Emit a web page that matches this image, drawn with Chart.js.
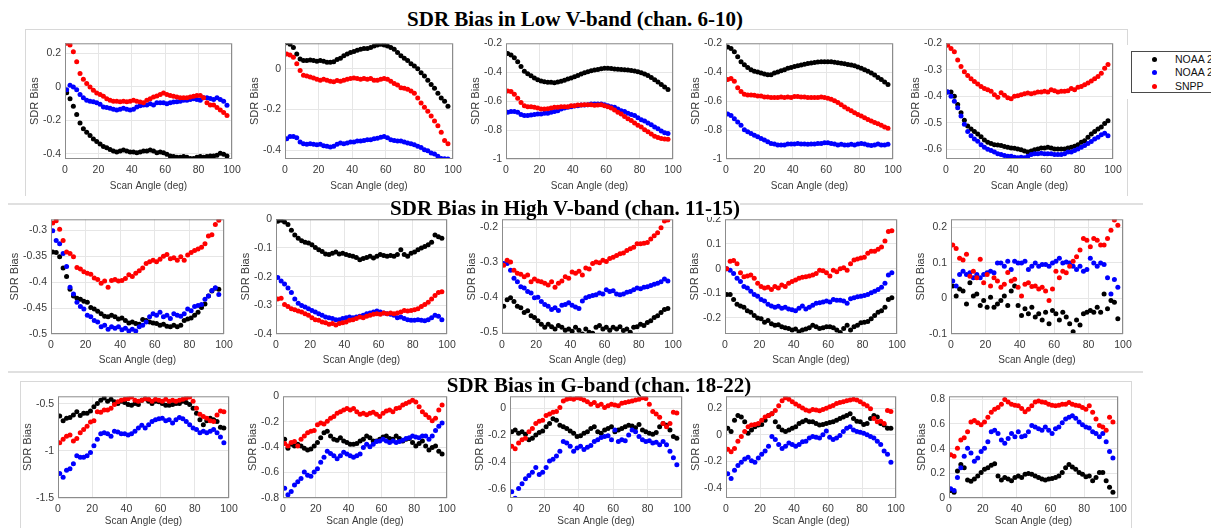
<!DOCTYPE html>
<html>
<head>
<meta charset="utf-8">
<script src="https://cdn.jsdelivr.net/npm/chart.js@4.4.0/dist/chart.umd.min.js"></script>
<style>
html, body { margin:0; padding:0; background:#fff; }
body { width:1211px; height:528px; position:relative; overflow:hidden; font-family:"Liberation Sans", Arial, sans-serif; }
.panel { position:absolute; }
.title { position:absolute; font-family:"Liberation Serif","Times New Roman",serif; font-weight:bold; font-size:21px; line-height:24px; white-space:nowrap; transform:translateX(-50%); color:#000; }
.sep { position:absolute; left:8px; width:1135px; height:0; border-top:2px solid #e0e0e0; }
.frame { position:absolute; border:1px solid #d8d8d8; border-bottom:none; }
.legend-mask { position:absolute; left:1120px; top:45px; width:91px; height:54px; background:#fff; }
.legend { position:absolute; left:1131px; top:51px; width:100px; height:40px; border:1px solid #4a4a4a; background:#fff; font-size:10.5px; color:#111; }
.legend div { position:absolute; left:43px; line-height:12px; white-space:nowrap; }
.legend i { position:absolute; left:-23.5px; top:3.5px; width:5px; height:5px; border-radius:50%; }
</style>
</head>
<body>
<div class="frame" style="left:25px; top:29px; width:1101px; height:166px;"></div>
<div class="frame" style="left:20px; top:381px; width:1110px; height:160px;"></div>
<div class="sep" style="top:203px;"></div>
<div class="sep" style="top:371px;"></div>

<script>
// scan angle (deg), one value every 2 degrees
const angles = [1,3,5,7,9,11,13,15,17,19,21,23,25,27,29,31,33,35,37,39,41,43,45,47,49,51,53,55,57,59,61,63,65,67,69,71,73,75,77,79,81,83,85,87,89,91,93,95,97];
const xTicks = [0,20,40,60,80,100];

// ---- Low V-band, chan. 6-10 ----
const ch6_n20 = [-0.035,-0.07,-0.115,-0.165,-0.215,-0.25,-0.27,-0.29,-0.31,-0.325,
-0.34,-0.355,-0.363,-0.373,-0.383,-0.388,-0.383,-0.377,-0.383,-0.388,
-0.388,-0.392,-0.388,-0.383,-0.383,-0.377,-0.383,-0.392,-0.388,-0.392,
-0.402,-0.412,-0.415,-0.42,-0.42,-0.415,-0.42,-0.427,-0.427,-0.42,
-0.415,-0.42,-0.415,-0.412,-0.412,-0.408,-0.396,-0.402,-0.412];
const ch6_n21 = [-0.017,0.01,0,-0.017,-0.046,-0.065,-0.08,-0.085,-0.088,-0.094,
-0.104,-0.12,-0.123,-0.127,-0.133,-0.138,-0.133,-0.127,-0.133,-0.138,
-0.133,-0.12,-0.113,-0.108,-0.108,-0.1,-0.108,-0.094,-0.094,-0.094,
-0.1,-0.094,-0.09,-0.088,-0.085,-0.08,-0.08,-0.075,-0.071,-0.075,
-0.08,-0.065,-0.065,-0.069,-0.075,-0.065,-0.075,-0.085,-0.11];
const ch6_snpp = [0.26,0.25,0.21,0.15,0.08,0.046,0.02,0,-0.02,-0.036,
-0.046,-0.056,-0.07,-0.08,-0.085,-0.085,-0.088,-0.085,-0.088,-0.085,
-0.08,-0.085,-0.09,-0.095,-0.08,-0.07,-0.06,-0.055,-0.045,-0.036,
-0.046,-0.052,-0.056,-0.06,-0.065,-0.065,-0.065,-0.06,-0.056,-0.052,
-0.052,-0.065,-0.095,-0.108,-0.108,-0.123,-0.138,-0.152,-0.17];

const ch7_n20 = [0.128,0.12,0.104,0.072,0.048,0.04,0.04,0.043,0.04,0.037,
0.04,0.037,0.032,0.032,0.035,0.045,0.051,0.064,0.072,0.08,
0.085,0.091,0.096,0.1,0.099,0.104,0.112,0.117,0.12,0.117,
0.112,0.104,0.096,0.08,0.064,0.051,0.04,0.024,0.013,0,
-0.02,-0.035,-0.056,-0.077,-0.096,-0.12,-0.144,-0.16,-0.184];
const ch7_n21 = [-0.344,-0.333,-0.333,-0.339,-0.36,-0.368,-0.371,-0.368,-0.371,-0.373,
-0.371,-0.378,-0.381,-0.384,-0.381,-0.371,-0.365,-0.368,-0.365,-0.36,
-0.36,-0.355,-0.355,-0.352,-0.349,-0.349,-0.344,-0.341,-0.336,-0.333,
-0.339,-0.349,-0.352,-0.355,-0.355,-0.36,-0.365,-0.368,-0.373,-0.381,
-0.387,-0.397,-0.403,-0.413,-0.419,-0.429,-0.44,-0.442,-0.443];
const ch7_snpp = [0.072,0.067,0.056,0.024,-0.008,-0.032,-0.035,-0.04,-0.045,-0.051,
-0.056,-0.051,-0.056,-0.061,-0.064,-0.058,-0.061,-0.056,-0.051,-0.048,
-0.045,-0.048,-0.051,-0.048,-0.051,-0.048,-0.056,-0.056,-0.051,-0.048,
-0.051,-0.061,-0.072,-0.08,-0.093,-0.096,-0.1,-0.109,-0.12,-0.144,
-0.168,-0.189,-0.208,-0.232,-0.256,-0.28,-0.312,-0.352,-0.368];

const ch8_n20 = [-0.27,-0.281,-0.3,-0.327,-0.36,-0.394,-0.41,-0.425,-0.44,-0.452,
-0.46,-0.465,-0.469,-0.47,-0.472,-0.467,-0.462,-0.456,-0.447,-0.44,
-0.432,-0.423,-0.413,-0.403,-0.396,-0.39,-0.385,-0.381,-0.376,-0.373,
-0.372,-0.374,-0.377,-0.379,-0.381,-0.383,-0.385,-0.388,-0.392,-0.397,
-0.403,-0.412,-0.423,-0.437,-0.452,-0.468,-0.485,-0.503,-0.519];
const ch8_n21 = [-0.677,-0.672,-0.672,-0.677,-0.693,-0.7,-0.7,-0.695,-0.693,-0.688,
-0.688,-0.684,-0.684,-0.677,-0.672,-0.666,-0.654,-0.647,-0.643,-0.638,
-0.634,-0.632,-0.627,-0.627,-0.625,-0.62,-0.62,-0.62,-0.62,-0.625,
-0.632,-0.638,-0.643,-0.654,-0.666,-0.672,-0.684,-0.693,-0.7,-0.715,
-0.729,-0.738,-0.751,-0.763,-0.779,-0.79,-0.806,-0.819,-0.824];
const ch8_snpp = [-0.53,-0.534,-0.553,-0.58,-0.609,-0.632,-0.638,-0.638,-0.643,-0.647,
-0.654,-0.654,-0.652,-0.647,-0.643,-0.643,-0.638,-0.638,-0.638,-0.632,
-0.632,-0.627,-0.627,-0.625,-0.625,-0.625,-0.629,-0.627,-0.625,-0.632,
-0.638,-0.647,-0.661,-0.677,-0.688,-0.706,-0.722,-0.733,-0.751,-0.767,
-0.779,-0.797,-0.812,-0.828,-0.842,-0.851,-0.858,-0.862,-0.864];

const ch9_n20 = [-0.225,-0.236,-0.259,-0.293,-0.327,-0.349,-0.367,-0.383,-0.394,-0.399,
-0.406,-0.412,-0.417,-0.417,-0.406,-0.399,-0.39,-0.383,-0.372,-0.367,
-0.36,-0.355,-0.35,-0.345,-0.34,-0.336,-0.333,-0.33,-0.328,-0.327,
-0.327,-0.328,-0.331,-0.334,-0.338,-0.342,-0.346,-0.35,-0.356,-0.364,
-0.372,-0.383,-0.394,-0.406,-0.42,-0.436,-0.451,-0.468,-0.485];
const ch9_n21 = [-0.688,-0.7,-0.722,-0.745,-0.767,-0.797,-0.812,-0.824,-0.835,-0.846,
-0.858,-0.869,-0.88,-0.892,-0.896,-0.903,-0.903,-0.903,-0.896,-0.896,
-0.896,-0.892,-0.896,-0.896,-0.898,-0.896,-0.896,-0.892,-0.892,-0.887,
-0.887,-0.892,-0.896,-0.903,-0.898,-0.903,-0.903,-0.898,-0.903,-0.896,
-0.892,-0.896,-0.903,-0.907,-0.903,-0.896,-0.903,-0.903,-0.898];
const ch9_snpp = [-0.451,-0.444,-0.462,-0.507,-0.534,-0.553,-0.557,-0.557,-0.56,-0.564,
-0.564,-0.571,-0.571,-0.575,-0.575,-0.575,-0.571,-0.575,-0.571,-0.575,
-0.568,-0.568,-0.571,-0.571,-0.575,-0.575,-0.575,-0.575,-0.571,-0.575,
-0.58,-0.586,-0.598,-0.61,-0.625,-0.64,-0.655,-0.666,-0.68,-0.693,
-0.703,-0.715,-0.727,-0.737,-0.747,-0.757,-0.767,-0.778,-0.788];

const ch10_n20 = [-0.384,-0.384,-0.4,-0.431,-0.462,-0.491,-0.512,-0.524,-0.533,-0.543,
-0.553,-0.565,-0.574,-0.578,-0.583,-0.584,-0.586,-0.59,-0.593,-0.595,
-0.596,-0.599,-0.602,-0.607,-0.611,-0.607,-0.602,-0.599,-0.595,-0.595,
-0.593,-0.595,-0.599,-0.599,-0.599,-0.599,-0.595,-0.593,-0.589,-0.583,
-0.574,-0.568,-0.555,-0.543,-0.533,-0.524,-0.516,-0.503,-0.493];
const ch10_n21 = [-0.384,-0.4,-0.419,-0.443,-0.475,-0.506,-0.533,-0.549,-0.561,-0.57,
-0.583,-0.593,-0.6,-0.605,-0.611,-0.617,-0.62,-0.624,-0.627,-0.627,
-0.63,-0.632,-0.63,-0.632,-0.627,-0.62,-0.617,-0.617,-0.615,-0.617,
-0.617,-0.617,-0.62,-0.62,-0.62,-0.617,-0.611,-0.611,-0.605,-0.599,
-0.593,-0.586,-0.578,-0.571,-0.561,-0.555,-0.545,-0.54,-0.549];
const ch10_snpp = [-0.207,-0.22,-0.232,-0.263,-0.288,-0.307,-0.322,-0.334,-0.344,-0.354,
-0.363,-0.371,-0.375,-0.381,-0.394,-0.404,-0.387,-0.396,-0.406,-0.409,
-0.4,-0.398,-0.394,-0.391,-0.388,-0.391,-0.388,-0.384,-0.384,-0.381,
-0.384,-0.375,-0.379,-0.384,-0.381,-0.381,-0.379,-0.371,-0.375,-0.366,
-0.363,-0.357,-0.35,-0.342,-0.334,-0.325,-0.313,-0.294,-0.28];

// ---- High V-band, chan. 11-15 ----
const ch11_n20 = [-0.342,-0.343,-0.351,-0.373,-0.389,-0.414,-0.427,-0.431,-0.433,-0.437,
-0.439,-0.449,-0.452,-0.456,-0.461,-0.466,-0.467,-0.464,-0.467,-0.471,
-0.469,-0.474,-0.479,-0.477,-0.48,-0.481,-0.472,-0.474,-0.477,-0.479,
-0.48,-0.483,-0.481,-0.485,-0.486,-0.483,-0.486,-0.483,-0.474,-0.471,
-0.469,-0.464,-0.458,-0.449,-0.442,-0.427,-0.417,-0.412,-0.414];
const ch11_n21 = [-0.301,-0.32,-0.326,-0.345,-0.37,-0.41,-0.423,-0.439,-0.447,-0.452,
-0.464,-0.467,-0.474,-0.477,-0.486,-0.483,-0.491,-0.486,-0.489,-0.486,
-0.492,-0.489,-0.494,-0.491,-0.494,-0.486,-0.483,-0.477,-0.467,-0.461,
-0.464,-0.458,-0.467,-0.464,-0.47,-0.461,-0.464,-0.466,-0.461,-0.452,
-0.455,-0.447,-0.445,-0.443,-0.433,-0.427,-0.416,-0.411,-0.424];
const ch11_snpp = [-0.286,-0.282,-0.298,-0.32,-0.342,-0.345,-0.351,-0.372,-0.375,-0.38,
-0.383,-0.385,-0.392,-0.395,-0.402,-0.398,-0.41,-0.397,-0.395,-0.398,
-0.397,-0.393,-0.386,-0.389,-0.383,-0.378,-0.373,-0.364,-0.361,-0.358,
-0.361,-0.356,-0.35,-0.347,-0.355,-0.353,-0.358,-0.351,-0.358,-0.348,
-0.343,-0.339,-0.336,-0.333,-0.326,-0.311,-0.309,-0.289,-0.281];

const ch12_n20 = [-0.007,-0.003,-0.009,-0.018,-0.038,-0.055,-0.066,-0.075,-0.08,-0.083,
-0.089,-0.098,-0.106,-0.112,-0.121,-0.123,-0.118,-0.114,-0.121,-0.118,
-0.123,-0.126,-0.129,-0.133,-0.141,-0.137,-0.133,-0.129,-0.135,-0.129,
-0.123,-0.126,-0.129,-0.126,-0.129,-0.123,-0.106,-0.123,-0.129,-0.118,
-0.114,-0.106,-0.1,-0.095,-0.089,-0.08,-0.055,-0.061,-0.066];
const ch12_n21 = [-0.203,-0.215,-0.226,-0.24,-0.255,-0.278,-0.293,-0.301,-0.306,-0.312,
-0.318,-0.323,-0.329,-0.335,-0.341,-0.343,-0.346,-0.35,-0.35,-0.346,
-0.343,-0.341,-0.343,-0.341,-0.338,-0.335,-0.329,-0.327,-0.323,-0.32,
-0.323,-0.327,-0.329,-0.331,-0.335,-0.343,-0.341,-0.346,-0.35,-0.352,
-0.352,-0.35,-0.352,-0.354,-0.35,-0.343,-0.335,-0.338,-0.35];
const ch12_snpp = [-0.278,-0.275,-0.297,-0.304,-0.312,-0.315,-0.32,-0.323,-0.329,-0.335,
-0.343,-0.35,-0.352,-0.358,-0.361,-0.366,-0.363,-0.369,-0.363,-0.361,
-0.358,-0.352,-0.35,-0.346,-0.341,-0.343,-0.338,-0.335,-0.331,-0.329,
-0.331,-0.327,-0.329,-0.327,-0.329,-0.327,-0.323,-0.318,-0.32,-0.318,
-0.315,-0.312,-0.304,-0.297,-0.289,-0.278,-0.266,-0.255,-0.253];

const ch13_n20 = [-0.426,-0.407,-0.402,-0.412,-0.426,-0.43,-0.444,-0.439,-0.453,-0.458,
-0.467,-0.477,-0.486,-0.477,-0.484,-0.491,-0.481,-0.486,-0.494,-0.491,
-0.497,-0.486,-0.494,-0.505,-0.491,-0.5,-0.503,-0.486,-0.481,-0.491,
-0.486,-0.494,-0.486,-0.491,-0.484,-0.495,-0.491,-0.5,-0.486,-0.484,
-0.477,-0.481,-0.472,-0.467,-0.458,-0.453,-0.444,-0.435,-0.432];
const ch13_n21 = [-0.304,-0.304,-0.323,-0.346,-0.356,-0.37,-0.374,-0.384,-0.388,-0.402,
-0.4,-0.412,-0.421,-0.426,-0.435,-0.43,-0.438,-0.423,-0.421,-0.416,
-0.423,-0.428,-0.432,-0.411,-0.402,-0.398,-0.395,-0.393,-0.388,-0.391,
-0.379,-0.384,-0.382,-0.391,-0.393,-0.391,-0.386,-0.384,-0.379,-0.374,
-0.376,-0.372,-0.37,-0.367,-0.363,-0.36,-0.356,-0.348,-0.354];
const ch13_snpp = [-0.309,-0.295,-0.3,-0.323,-0.332,-0.335,-0.342,-0.337,-0.356,-0.348,
-0.354,-0.356,-0.36,-0.365,-0.356,-0.372,-0.36,-0.354,-0.342,-0.346,
-0.328,-0.332,-0.326,-0.337,-0.317,-0.32,-0.304,-0.3,-0.302,-0.295,
-0.298,-0.29,-0.286,-0.281,-0.276,-0.274,-0.267,-0.262,-0.258,-0.248,
-0.248,-0.246,-0.244,-0.234,-0.225,-0.216,-0.202,-0.183,-0.18];

const ch14_n20 = [-0.105,-0.105,-0.125,-0.144,-0.151,-0.157,-0.171,-0.177,-0.19,-0.2,
-0.203,-0.217,-0.21,-0.223,-0.23,-0.227,-0.236,-0.24,-0.243,-0.249,
-0.245,-0.256,-0.249,-0.245,-0.24,-0.23,-0.236,-0.243,-0.24,-0.236,
-0.236,-0.24,-0.249,-0.259,-0.243,-0.23,-0.249,-0.236,-0.23,-0.219,
-0.217,-0.214,-0.203,-0.19,-0.177,-0.171,-0.157,-0.125,-0.118];
const ch14_n21 = [0,-0.007,-0.02,-0.039,-0.052,-0.072,-0.079,-0.092,-0.105,-0.112,
-0.125,-0.131,-0.144,-0.151,-0.157,-0.153,-0.161,-0.157,-0.164,-0.167,
-0.171,-0.161,-0.151,-0.164,-0.157,-0.148,-0.14,-0.138,-0.135,-0.131,
-0.135,-0.125,-0.128,-0.128,-0.131,-0.14,-0.122,-0.118,-0.114,-0.112,
-0.109,-0.105,-0.098,-0.092,-0.085,-0.075,-0.059,-0.026,-0.017];
const ch14_snpp = [0,0.03,0.033,0.02,-0.017,-0.033,-0.03,-0.026,-0.039,-0.059,
-0.072,-0.079,-0.075,-0.085,-0.072,-0.079,-0.066,-0.072,-0.059,-0.052,
-0.046,-0.039,-0.035,-0.033,-0.03,-0.026,-0.02,-0.007,-0.009,-0.017,
-0.03,-0.007,-0.013,0,0.004,-0.007,0.02,0.035,0.039,0.043,
0.046,0.062,0.07,0.07,0.079,0.088,0.112,0.151,0.154];

const ch15_n20 = [0.035,0.007,0.026,0.021,-0.016,0.044,0.007,0.012,-0.02,-0.006,
-0.025,0.003,-0.025,-0.016,-0.006,0.007,-0.02,0.021,0.035,-0.02,
-0.048,-0.029,-0.043,-0.025,-0.052,-0.043,-0.061,-0.039,-0.071,-0.034,
-0.043,-0.061,-0.039,-0.052,-0.071,-0.094,-0.061,-0.075,-0.043,-0.039,
-0.034,-0.039,-0.025,-0.039,0.012,-0.029,-0.006,-0.011,-0.057];
const ch15_n21 = [0.049,0.035,0.067,0.076,0.067,0.072,0.058,0.067,0.058,0.067,
0.072,0.076,0.072,0.099,0.099,0.09,0.104,0.081,0.104,0.099,
0.099,0.104,0.081,0.09,0.099,0.09,0.095,0.095,0.09,0.099,
0.104,0.113,0.099,0.102,0.099,0.09,0.081,0.09,0.076,0.081,
0.113,0.099,0.09,0.099,0.095,0.058,0.012,0.053,0.031];
const ch15_snpp = [0.15,0.14,0.113,0.108,0.124,0.062,0.076,0.058,0.11,0.044,
0.067,0.035,0.058,0.049,0.031,0.04,0.073,0.049,0.054,0.031,
0.007,0.04,0.044,0.033,0.035,0.026,0.031,0.021,-0.006,0.026,
0.076,0.058,0.076,0.072,0.09,0.104,0.117,0.136,0.168,0.163,
0.145,0.168,0.163,0.15,0.15,0.168,0.191,0.22,0.205];

// ---- G-band, chan. 18-22 ----
const ch18_n20 = [-0.628,-0.68,-0.652,-0.645,-0.618,-0.583,-0.625,-0.6,-0.6,-0.576,
-0.531,-0.497,-0.462,-0.438,-0.472,-0.452,-0.479,-0.497,-0.472,-0.486,
-0.507,-0.514,-0.497,-0.507,-0.462,-0.445,-0.472,-0.497,-0.472,-0.479,
-0.497,-0.514,-0.514,-0.507,-0.497,-0.497,-0.472,-0.486,-0.507,-0.548,
-0.6,-0.67,-0.721,-0.68,-0.652,-0.67,-0.687,-0.749,-0.756];
const ch18_n21 = [-1.24,-1.28,-1.206,-1.189,-1.137,-1.05,-1.067,-1.067,-1.05,-1.016,
-0.946,-0.877,-0.818,-0.808,-0.818,-0.843,-0.791,-0.798,-0.818,-0.818,
-0.832,-0.818,-0.791,-0.756,-0.728,-0.756,-0.721,-0.687,-0.67,-0.659,
-0.652,-0.68,-0.67,-0.704,-0.67,-0.645,-0.659,-0.687,-0.721,-0.756,
-0.773,-0.808,-0.791,-0.808,-0.791,-0.773,-0.808,-0.853,-0.912];
const ch18_snpp = [-0.912,-0.877,-0.843,-0.832,-0.894,-0.867,-0.808,-0.773,-0.739,-0.694,
-0.68,-0.583,-0.59,-0.566,-0.566,-0.548,-0.507,-0.479,-0.462,-0.452,
-0.445,-0.427,-0.462,-0.472,-0.462,-0.445,-0.452,-0.472,-0.452,-0.462,
-0.472,-0.452,-0.472,-0.462,-0.472,-0.462,-0.452,-0.438,-0.427,-0.472,
-0.548,-0.611,-0.635,-0.652,-0.68,-0.687,-0.618,-0.576,-0.583];

const ch19_n20 = [-0.338,-0.408,-0.377,-0.39,-0.377,-0.39,-0.408,-0.423,-0.415,-0.39,
-0.364,-0.326,-0.287,-0.274,-0.313,-0.338,-0.346,-0.326,-0.351,-0.364,
-0.377,-0.377,-0.372,-0.351,-0.338,-0.313,-0.326,-0.351,-0.351,-0.338,
-0.321,-0.313,-0.331,-0.338,-0.313,-0.331,-0.351,-0.338,-0.331,-0.364,
-0.39,-0.372,-0.351,-0.39,-0.423,-0.403,-0.39,-0.433,-0.454];
const ch19_n21 = [-0.723,-0.774,-0.749,-0.697,-0.672,-0.646,-0.595,-0.621,-0.628,-0.595,
-0.569,-0.518,-0.479,-0.433,-0.449,-0.467,-0.492,-0.467,-0.441,-0.454,
-0.467,-0.479,-0.467,-0.454,-0.403,-0.377,-0.397,-0.377,-0.356,-0.351,
-0.338,-0.351,-0.364,-0.351,-0.364,-0.356,-0.346,-0.331,-0.326,-0.313,
-0.321,-0.326,-0.313,-0.313,-0.338,-0.313,-0.269,-0.236,-0.21];
const ch19_snpp = [-0.372,-0.39,-0.364,-0.356,-0.39,-0.338,-0.313,-0.287,-0.274,-0.269,
-0.223,-0.21,-0.218,-0.197,-0.172,-0.159,-0.133,-0.121,-0.108,-0.095,
-0.108,-0.095,-0.121,-0.141,-0.133,-0.146,-0.133,-0.126,-0.141,-0.159,
-0.133,-0.115,-0.108,-0.121,-0.095,-0.09,-0.069,-0.056,-0.044,-0.031,
-0.044,-0.082,-0.121,-0.146,-0.167,-0.192,-0.172,-0.108,-0.069];

const ch20_n20 = [-0.175,-0.163,-0.187,-0.175,-0.194,-0.235,-0.223,-0.199,-0.18,-0.17,
-0.139,-0.115,-0.079,-0.091,-0.127,-0.139,-0.151,-0.17,-0.187,-0.211,
-0.204,-0.187,-0.175,-0.151,-0.139,-0.175,-0.187,-0.163,-0.151,-0.139,
-0.175,-0.163,-0.151,-0.139,-0.127,-0.132,-0.146,-0.122,-0.163,-0.175,
-0.187,-0.194,-0.18,-0.139,-0.115,-0.127,-0.163,-0.211,-0.223];
const ch20_n21 = [-0.619,-0.667,-0.595,-0.559,-0.523,-0.499,-0.475,-0.439,-0.492,-0.475,
-0.439,-0.391,-0.379,-0.355,-0.319,-0.247,-0.259,-0.283,-0.319,-0.295,
-0.283,-0.307,-0.29,-0.276,-0.247,-0.235,-0.218,-0.211,-0.204,-0.235,
-0.163,-0.247,-0.235,-0.242,-0.199,-0.163,-0.175,-0.211,-0.235,-0.247,
-0.242,-0.259,-0.252,-0.271,-0.247,-0.271,-0.319,-0.367,-0.42];
const ch20_snpp = [-0.283,-0.3,-0.259,-0.235,-0.223,-0.175,-0.151,-0.115,-0.098,-0.091,
-0.055,-0.043,-0.031,-0.026,0.005,0.053,0.065,0.07,0.065,0.077,
0.07,0.06,0.046,0.029,0.041,0.017,0.029,0.005,0.017,0.029,
0.022,0.017,0.036,0.041,0.046,0.053,0.06,0.065,0.077,0.07,
0.029,-0.026,-0.043,-0.067,-0.115,-0.139,-0.115,-0.031,-0.036];

const ch21_n20 = [0.048,0.024,0.109,0.145,0.133,0.097,0.012,0.036,0.061,0.073,
0.077,0.109,0.145,0.157,0.097,0.061,0.036,0.024,0.036,0.048,
0.061,0.085,0.097,0.109,0.097,0.097,0.085,0.073,0.077,0.085,
0.092,0.097,0.109,0.121,0.133,0.145,0.157,0.121,0.102,0.097,
0.077,0.085,0.121,0.145,0.133,0.085,0.073,0.048,0.048];
const ch21_n21 = [-0.291,-0.327,-0.266,-0.23,-0.206,-0.182,-0.169,-0.194,-0.206,-0.174,
-0.145,-0.121,-0.085,-0.012,-0.036,-0.073,-0.102,-0.085,-0.061,-0.073,
-0.085,-0.073,-0.053,-0.048,-0.024,-0.012,-0.019,-0.024,0,0.029,
-0.019,-0.036,-0.024,-0.005,0.024,0.048,0.061,0.036,0.024,0.019,
0.012,0,-0.012,-0.024,-0.048,-0.073,-0.121,-0.145,-0.206];
const ch21_snpp = [-0.109,-0.126,-0.102,-0.048,-0.012,0.024,0.061,0.073,0.077,0.085,
0.109,0.133,0.145,0.157,0.182,0.218,0.254,0.278,0.266,0.247,
0.23,0.215,0.2,0.185,0.178,0.19,0.185,0.18,0.19,0.199,
0.21,0.22,0.235,0.242,0.247,0.254,0.26,0.266,0.26,0.247,
0.23,0.218,0.194,0.121,0.097,0.102,0.085,0.182,0.174];

const ch22_n20 = [0.061,0.047,0.219,0.272,0.245,0.145,0.135,0.153,0.179,0.206,
0.232,0.245,0.266,0.277,0.179,0.145,0.166,0.153,0.14,0.166,
0.179,0.166,0.193,0.198,0.193,0.179,0.166,0.153,0.145,0.153,
0.158,0.166,0.179,0.206,0.245,0.272,0.251,0.232,0.206,0.193,
0.172,0.179,0.14,0.166,0.206,0.206,0.14,0.087,0.047];
const ch22_n21 = [0.074,0.061,0.166,0.245,0.338,0.404,0.364,0.298,0.325,0.377,
0.404,0.456,0.536,0.549,0.522,0.47,0.443,0.483,0.522,0.496,
0.536,0.496,0.504,0.536,0.588,0.575,0.562,0.549,0.575,0.549,
0.522,0.562,0.575,0.61,0.641,0.654,0.667,0.646,0.615,0.594,
0.575,0.567,0.536,0.522,0.496,0.522,0.456,0.377,0.325];
const ch22_snpp = [0.351,0.338,0.404,0.47,0.488,0.536,0.615,0.628,0.61,0.594,
0.615,0.654,0.694,0.72,0.734,0.76,0.799,0.778,0.76,0.752,
0.747,0.726,0.699,0.72,0.747,0.778,0.786,0.778,0.773,0.76,
0.752,0.747,0.752,0.76,0.76,0.773,0.76,0.752,0.747,0.734,
0.72,0.747,0.694,0.641,0.588,0.575,0.549,0.654,0.615];

const seriesNames = ['NOAA 20', 'NOAA 21', 'SNPP'];
const seriesColors = ['#000000', '#0000ff', '#ff0000'];

// y axis per panel: [min, max] and tick values
const panels = [
  {data:[ch6_n20, ch6_n21, ch6_snpp],    y:[-0.43, 0.26],   ticks:[-0.4,-0.2,0,0.2]},
  {data:[ch7_n20, ch7_n21, ch7_snpp],    y:[-0.443, 0.125], ticks:[-0.4,-0.2,0]},
  {data:[ch8_n20, ch8_n21, ch8_snpp],    y:[-1, -0.2],      ticks:[-1,-0.8,-0.6,-0.4,-0.2]},
  {data:[ch9_n20, ch9_n21, ch9_snpp],    y:[-1, -0.2],      ticks:[-1,-0.8,-0.6,-0.4,-0.2]},
  {data:[ch10_n20, ch10_n21, ch10_snpp], y:[-0.637, -0.2],  ticks:[-0.6,-0.5,-0.4,-0.3,-0.2]},
  {data:[ch11_n20, ch11_n21, ch11_snpp], y:[-0.5, -0.279],  ticks:[-0.5,-0.45,-0.4,-0.35,-0.3]},
  {data:[ch12_n20, ch12_n21, ch12_snpp], y:[-0.4, 0],       ticks:[-0.4,-0.3,-0.2,-0.1,0]},
  {data:[ch13_n20, ch13_n21, ch13_snpp], y:[-0.505, -0.178],ticks:[-0.5,-0.4,-0.3,-0.2]},
  {data:[ch14_n20, ch14_n21, ch14_snpp], y:[-0.265, 0.2],   ticks:[-0.2,-0.1,0,0.1,0.2]},
  {data:[ch15_n20, ch15_n21, ch15_snpp], y:[-0.1, 0.222],   ticks:[-0.1,0,0.1,0.2]},
  {data:[ch18_n20, ch18_n21, ch18_snpp], y:[-1.5, -0.42],   ticks:[-1.5,-1,-0.5]},
  {data:[ch19_n20, ch19_n21, ch19_snpp], y:[-0.8, 0],       ticks:[-0.8,-0.6,-0.4,-0.2,0]},
  {data:[ch20_n20, ch20_n21, ch20_snpp], y:[-0.665, 0.087], ticks:[-0.6,-0.4,-0.2,0]},
  {data:[ch21_n20, ch21_n21, ch21_snpp], y:[-0.473, 0.288], ticks:[-0.4,-0.2,0,0.2]},
  {data:[ch22_n20, ch22_n21, ch22_snpp], y:[0, 0.824],      ticks:[0,0.2,0.4,0.6,0.8]}
];

// plot area of every panel on the page: left, top, right, bottom, x-title offset
const boxes = [
  [65,41,232,159,27],[285,41,453,159,27],[506,41,673,159,27],[726,41,893,159,27],[946,41,1113,159,27],
  [51,217,224,334,26],[276,217,447,334,26],[502,217,673,334,26],[725,217,897,334,26],[951,217,1123,334,26],
  [58,394,229,498,23],[283,394,447,498,23],[510,394,682,498,23],[726,394,896,498,23],[949,394,1118,498,23]
];

const FONT = '"Liberation Sans", Arial, Helvetica, sans-serif';
Chart.defaults.font.family = FONT;
Chart.defaults.font.size = 10.5;
Chart.defaults.color = '#3a3a3a';

// matlab like box + axis titles
const matBox = {
  id: 'matBox',
  afterDraw(chart, args, opts) {
    const ctx = chart.ctx, a = chart.chartArea;
    ctx.save();
    ctx.strokeStyle = '#8c8c8c';
    ctx.lineWidth = 1;
    ctx.strokeRect(a.left + 0.5, a.top + 0.5, a.right - a.left - 1, a.bottom - a.top - 1);
    ctx.fillStyle = '#3a3a3a';
    ctx.textAlign = 'center';
    ctx.textBaseline = 'middle';
    ctx.font = '10px ' + FONT;
    ctx.fillText('Scan Angle (deg)', (a.left + a.right) / 2, a.bottom + opts.xOff);
    ctx.font = '10.5px ' + FONT;
    let w = 0;
    chart.scales.y.ticks.forEach(t => { w = Math.max(w, ctx.measureText(t.label).width); });
    ctx.font = '11px ' + FONT;
    ctx.translate(a.left - 4 - w - 8, (a.top + a.bottom) / 2);
    ctx.rotate(-Math.PI / 2);
    ctx.fillText('SDR Bias', 0, 0);
    ctx.restore();
  }
};

function make_panel(p, box) {
  const L = box[0], T = box[1], R = box[2], B = box[3];
  const w = R - L + 64, h = B - T + 40;
  const wrap = document.createElement('div');
  wrap.className = 'panel';
  wrap.style.left = (L - 50) + 'px';
  wrap.style.top = (T - 8) + 'px';
  const cv = document.createElement('canvas');
  cv.width = w; cv.height = h;
  cv.style.width = w + 'px'; cv.style.height = h + 'px';
  wrap.appendChild(cv);
  document.body.appendChild(wrap);

  // snpp first so it is drawn on top
  const order = [2, 1, 0];
  const datasets = order.map(k => ({
    label: seriesNames[k],
    data: angles.map((x, i) => ({x: x, y: p.data[k][i]})),
    backgroundColor: seriesColors[k],
    borderWidth: 0,
    pointRadius: 2.5,
    pointHoverRadius: 2.5,
    showLine: false
  }));

  new Chart(cv, {
    type: 'scatter',
    data: { datasets: datasets },
    options: {
      responsive: false,
      animation: false,
      devicePixelRatio: 1,
      events: [],
      layout: { padding: { left: 0, top: 8, right: 14, bottom: 0 } },
      plugins: { legend: { display: false }, tooltip: { enabled: false }, matBox: { xOff: box[4] } },
      scales: {
        x: {
          type: 'linear', min: 0, max: 100,
          afterBuildTicks: s => { s.ticks = xTicks.map(v => ({value: v})); },
          afterFit: s => { s.height = 32; },
          grid: { color: '#e6e6e6', drawTicks: false },
          border: { display: false },
          ticks: { padding: 5, maxRotation: 0, autoSkip: false }
        },
        y: {
          type: 'linear', min: p.y[0], max: p.y[1],
          afterBuildTicks: s => { s.ticks = p.ticks.map(v => ({value: v})); },
          afterFit: s => { s.width = 50; },
          grid: { color: '#e6e6e6', drawTicks: false },
          border: { display: false },
          ticks: { padding: 4, autoSkip: false, callback: v => String(+v.toFixed(3)) }
        }
      }
    },
    plugins: [matBox]
  });
}

panels.forEach((p, i) => make_panel(p, boxes[i]));
</script>

<div class="title" style="left:575px; top:7px;">SDR Bias in Low V-band (chan. 6-10)</div>
<div class="title" style="left:565px; top:199px; line-height:18px; background:#fff;">SDR Bias in High V-band (chan. 11-15)</div>
<div class="title" style="left:599px; top:373px;">SDR Bias in G-band (chan. 18-22)</div>

<div class="legend-mask"></div>
<div class="legend">
  <div style="top:1px;"><i style="background:#000;"></i>NOAA 20</div>
  <div style="top:14px;"><i style="background:#0000ff;"></i>NOAA 21</div>
  <div style="top:28px;"><i style="background:#ff0000;"></i>SNPP</div>
</div>
</body>
</html>
